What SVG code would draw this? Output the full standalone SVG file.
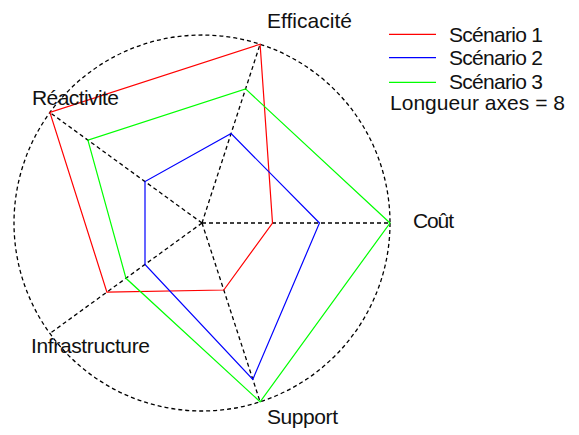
<svg xmlns="http://www.w3.org/2000/svg" width="579" height="435" viewBox="0 0 579 435">
  <style>
    .grid { fill: none; stroke: #000; stroke-width: 1.3; stroke-dasharray: 4 3; }
    .series { fill: none; stroke-width: 1.2; stroke-linejoin: miter; }
    .s1 { stroke: #ff0000; }
    .s2 { stroke: #0000ff; }
    .s3 { stroke: #00ff00; }
    .label { font-family: "Liberation Sans", Arial, sans-serif; font-size: 21px; fill: #111; }
  </style>
  <rect width="579" height="435" fill="#fff"/>

  <!-- radar grid: outer circle (axis length 8) and five axes -->
  <g id="connectors">
    <circle class="grid" cx="202" cy="223" r="188"/>
    <line class="grid" x1="202" y1="223" x2="390" y2="223"/>
    <line class="grid" x1="202" y1="223" x2="260.1" y2="44.2"/>
    <line class="grid" x1="202" y1="223" x2="49.9" y2="112.5"/>
    <line class="grid" x1="202" y1="223" x2="49.9" y2="333.5"/>
    <line class="grid" x1="202" y1="223" x2="260.1" y2="401.8"/>
  </g>

  <!-- scenario profiles -->
  <g id="scenario1">
    <polygon class="series s1" points="272.5,223 260.1,44.2 49.9,112.5 106.9,292.1 223.8,290"/>
  </g>
  <g id="scenario2">
    <polygon class="series s2" points="319.5,223 231.1,133.6 145,181.6 145,264.4 252.8,379.4"/>
  </g>
  <g id="scenario3">
    <polygon class="series s3" points="390,223 245.6,88.9 87.9,140.1 126,278.3 260.1,401.8"/>
  </g>

  <!-- axis labels -->
  <g id="axis-efficacite"><text class="label" x="267" y="28" textLength="85">Efficacité</text></g>
  <g id="axis-cout"><text class="label" x="413" y="228" textLength="41">Coût</text></g>
  <g id="axis-support"><text class="label" x="267" y="424" textLength="71">Support</text></g>
  <g id="axis-infrastructure"><text class="label" x="31" y="353" textLength="119">Infrastructure</text></g>
  <g id="axis-reactivite"><text class="label" x="32" y="105" textLength="87">Réactivite</text></g>

  <!-- legend -->
  <g id="legend">
    <line class="series s1" x1="389" y1="34.3" x2="436" y2="34.3"/>
    <line class="series s2" x1="389" y1="57.7" x2="436" y2="57.7"/>
    <line class="series s3" x1="389" y1="82.3" x2="436" y2="82.3"/>
    <text class="label" x="449" y="42" textLength="94">Scénario 1</text>
    <text class="label" x="449" y="65" textLength="94">Scénario 2</text>
    <text class="label" x="449" y="88.5" textLength="94">Scénario 3</text>
    <text class="label" x="390" y="110" textLength="175">Longueur axes = 8</text>
  </g>
</svg>
